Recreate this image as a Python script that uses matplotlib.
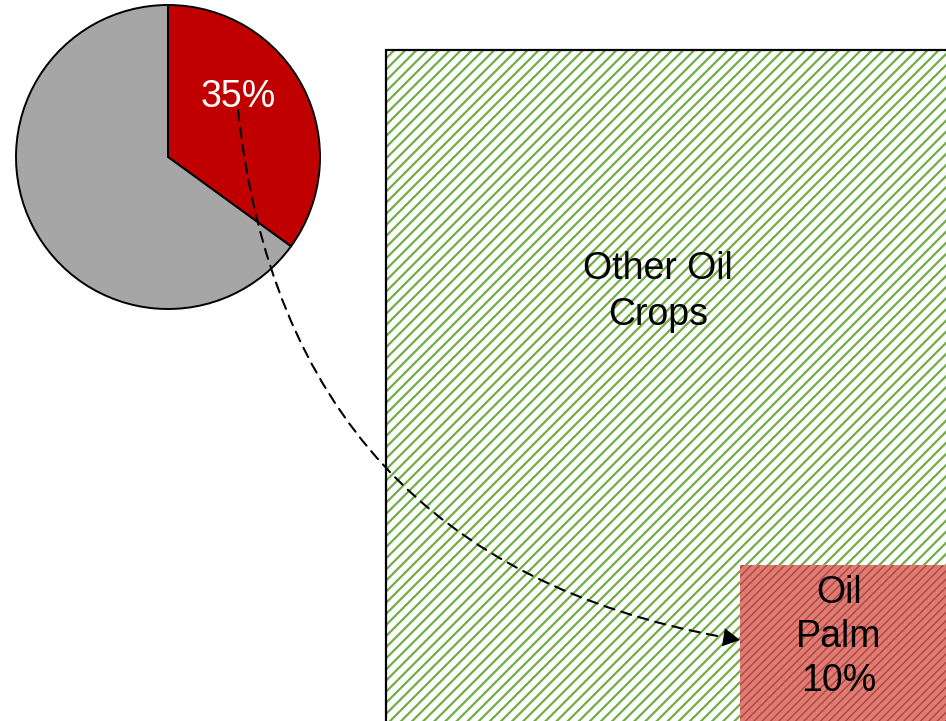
import matplotlib
matplotlib.use("Agg")
import matplotlib.pyplot as plt
from matplotlib.patches import Rectangle, FancyArrowPatch

# data
pie_labels = ["Oil Palm share", "Other"]
pie_values = [35, 65]
pie_colors = ["#C00000", "#A6A6A6"]
pie_text = "35%"
big_label = "Other Oil\nCrops"
small_label = "Oil\nPalm\n10%"

W, H = 946, 721
fig = plt.figure(figsize=(W / 100, H / 100), dpi=100)
ax = fig.add_axes([0, 0, 1, 1])

plt.rcParams["font.family"] = ["Liberation Sans", "DejaVu Sans"]

# pie
cx, cy, r = 168, H - 157, 152
wedges, _ = ax.pie(pie_values, colors=pie_colors, startangle=90, counterclock=False,
                   center=(cx, cy), radius=r,
                   wedgeprops=dict(edgecolor="black", linewidth=1.4), frame=True)
ax.set_xlim(0, W)
ax.set_ylim(0, H)
ax.set_aspect("auto")
ax.axis("off")
ax.text(238, H - 97, pie_text, color="white", fontsize=27, ha="center", va="center")

# big square (other oil crops)
plt.rcParams["hatch.linewidth"] = 1.6
big = Rectangle((386, -10), 700, H - 50 + 10, facecolor="white", edgecolor="#70AD47",
                hatch="///", linewidth=0)
ax.add_patch(big)
ax.add_patch(Rectangle((386, -10), 700, H - 50 + 10, fill=False, edgecolor="black",
                       linewidth=1.6))
ax.text(658, H - 292, big_label, fontsize=27, ha="center", va="center",
        linespacing=1.34, color="black")

# oil palm box
plt.rcParams["hatch.linewidth"] = 1.0
small = Rectangle((740, -10), 300, H - 565 + 10, facecolor="#E07B74", edgecolor="#A8463F",
                  hatch="////", linewidth=0)
ax.add_patch(small)
ax.text(839, H - 637, small_label, fontsize=27, ha="center", va="center",
        linespacing=1.3, color="black")

# dashed curved arrow
p0 = (238, H - 110)
p1 = (740, H - 640)
shaft = FancyArrowPatch(p0, p1, connectionstyle="arc3,rad=0.38", arrowstyle="-",
                        linestyle=(0, (5, 3.5)), linewidth=1.5, color="black",
                        shrinkA=0, shrinkB=12)
ax.add_patch(shaft)
head = FancyArrowPatch(p0, p1, connectionstyle="arc3,rad=0.38", arrowstyle="-|>,head_length=0.55,head_width=0.3",
                       mutation_scale=22, linewidth=0, color="black",
                       shrinkA=0, shrinkB=0)
ax.add_patch(head)

fig.savefig("out.png", dpi=100)
